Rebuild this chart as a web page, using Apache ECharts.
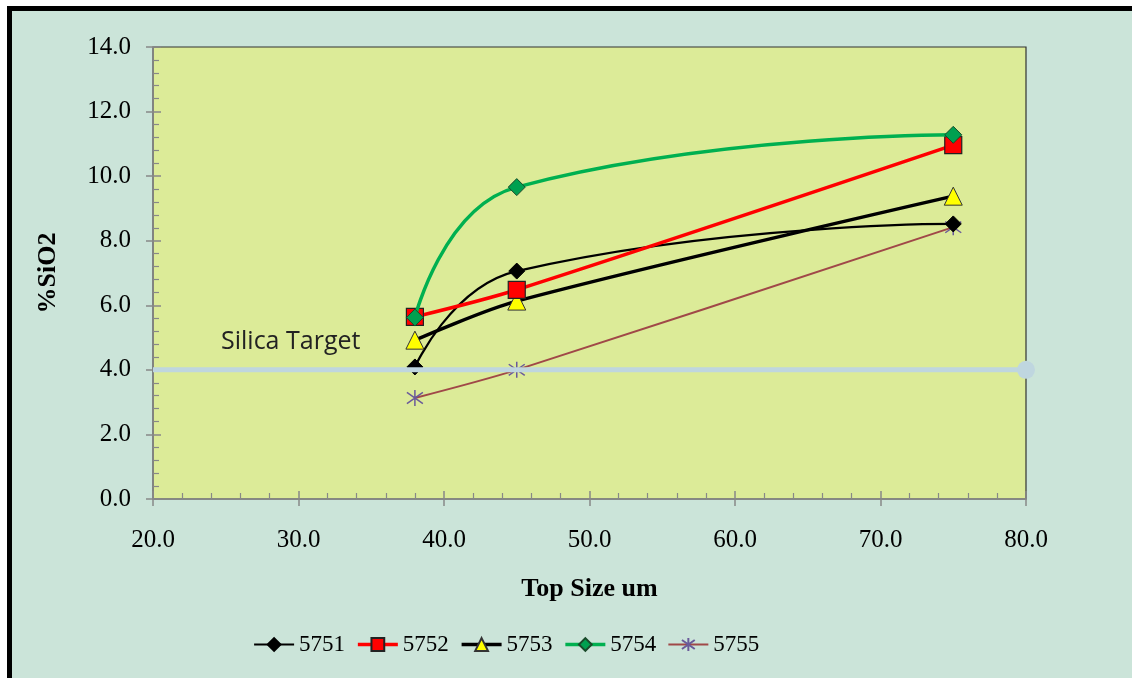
<!DOCTYPE html>
<html><head><meta charset="utf-8">
<script src="https://cdn.jsdelivr.net/npm/echarts@6/dist/echarts.min.js"></script>
<style>html,body{margin:0;padding:0;background:#fff}#c{width:1132px;height:678px}</style>
</head><body><div id="c"></div>
<script>
const xValues = [38, 45, 75];
const s5751 = [4.09, 7.06, 8.52];
const s5752 = [5.64, 6.48, 10.96];
const s5753 = [4.92, 6.13, 9.38];
const s5754 = [5.62, 9.66, 11.28];
const s5755 = [3.13, 4.0, 8.42];
const targetX = [20, 80];
const targetY = [4.0, 4.0];
const seriesNames = ['5751', '5752', '5753', '5754', '5755'];
const targetLabel = 'Silica Target';
const xTitle = 'Top Size um';
const yTitle = '%SiO2';

const pair = (ys) => xValues.map((x, i) => [x, ys[i]]);
const serif = '"Liberation Serif","Times New Roman",serif';
const asterisk = 'path://M5,0L5,10M0,1.5L10,8.5M10,1.5L0,8.5';

const chart = echarts.init(document.getElementById('c'), null, {renderer: 'canvas'});
chart.setOption({
  backgroundColor: '#ffffff',
  animation: false,
  graphic: [
    {type: 'rect', z: -10, shape: {x: 7, y: 6, width: 1125, height: 672}, style: {fill: '#cbe4d9'}},
    {type: 'rect', z: -9, shape: {x: 7, y: 6, width: 1125, height: 5}, style: {fill: '#000'}},
    {type: 'rect', z: -9, shape: {x: 7, y: 6, width: 5, height: 672}, style: {fill: '#000'}},
    {type: 'text', z: 10, left: 221, top: 329, style: {text: targetLabel, font: '25px "Open Sans","Liberation Sans",sans-serif', fill: '#222'}}
  ],
  grid: {left: 153, right: 106, top: 47, bottom: 179, show: true, backgroundColor: '#dceb98', borderColor: '#333', borderWidth: 1.2},
  legend: {
    top: 628, left: 248, itemWidth: 40, itemHeight: 16, itemGap: 11,
    textStyle: {fontFamily: serif, fontSize: 23, color: '#000'},
    lineStyle: {width: 'inherit'},
    data: seriesNames
  },
  xAxis: [{
    type: 'value', min: 20, max: 80, interval: 10,
    name: xTitle, nameLocation: 'middle', nameGap: 77,
    nameTextStyle: {fontFamily: serif, fontSize: 26, fontWeight: 'bold', color: '#000'},
    axisLine: {lineStyle: {color: '#888', width: 1.5}},
    axisTick: {show: true, inside: true, length: 8, lineStyle: {color: '#888', width: 1.5}},
    minorTick: {show: true, splitNumber: 5, length: 6, lineStyle: {color: '#888', width: 1.2}},
    splitLine: {show: false},
    axisLabel: {fontFamily: serif, fontSize: 25, color: '#000', margin: 29, formatter: v => v.toFixed(1)}
  }, {
    type: 'value', min: 20, max: 80, interval: 10, position: 'bottom',
    axisLine: {show: false}, axisLabel: {show: false}, splitLine: {show: false},
    axisTick: {show: true, inside: false, length: 7, lineStyle: {color: '#888', width: 1.5}}
  }],
  yAxis: [{
    type: 'value', min: 0, max: 14, interval: 2,
    name: yTitle, nameLocation: 'middle', nameGap: 92, nameRotate: 90,
    nameTextStyle: {fontFamily: serif, fontSize: 26, fontWeight: 'bold', color: '#000'},
    axisLine: {show: true, lineStyle: {color: '#888', width: 1.5}},
    axisTick: {show: true, inside: true, length: 8, lineStyle: {color: '#888', width: 1.5}},
    minorTick: {show: true, splitNumber: 5, length: 6, lineStyle: {color: '#888', width: 1.2}},
    splitLine: {show: false},
    axisLabel: {fontFamily: serif, fontSize: 25, color: '#000', margin: 22, formatter: v => v.toFixed(1)}
  }, {
    type: 'value', min: 0, max: 14, interval: 2, position: 'left',
    axisLine: {show: false}, axisLabel: {show: false}, splitLine: {show: false},
    axisTick: {show: true, inside: false, length: 7, lineStyle: {color: '#888', width: 1.5}}
  }],
  series: [
    {name: '5755', type: 'line', smooth: 0.3, data: pair(s5755), z: 2,
     symbol: asterisk, symbolSize: 16, lineStyle: {color: '#a04848', width: 2},
     itemStyle: {color: 'rgba(0,0,0,0)', borderColor: '#6a5a9a', borderWidth: 1.5}},
    {name: '5751', type: 'line', smooth: 0.5, data: pair(s5751), z: 3,
     symbol: 'diamond', symbolSize: 16, lineStyle: {color: '#000', width: 2.2},
     itemStyle: {color: '#000', borderColor: '#000', borderWidth: 1}},
    {name: 'target', type: 'line', data: targetX.map((x, i) => [x, targetY[i]]), z: 4,
     lineStyle: {color: '#bfd6df', width: 5}, itemStyle: {color: '#bfd6df'},
     symbol: 'circle', symbolSize: (v, p) => p.dataIndex === 1 ? 18 : 0, showSymbol: true, legendHoverLink: false, silent: true},
    {name: '5753', type: 'line', smooth: 0.3, data: pair(s5753), z: 5,
     symbol: 'triangle', symbolSize: 18, lineStyle: {color: '#000', width: 3.5},
     itemStyle: {color: '#ffff00', borderColor: '#333', borderWidth: 1}},
    {name: '5752', type: 'line', smooth: 0.3, data: pair(s5752), z: 6,
     symbol: 'rect', symbolSize: 17, lineStyle: {color: '#ff0000', width: 3.5},
     itemStyle: {color: '#ff0000', borderColor: '#222', borderWidth: 1.2}},
    {name: '5754', type: 'line', smooth: 0.5, data: pair(s5754), z: 7,
     symbol: 'diamond', symbolSize: 17, lineStyle: {color: '#00b050', width: 3.5},
     itemStyle: {color: '#00a050', borderColor: '#1a4a2a', borderWidth: 1}}
  ]
});
</script></body></html>
